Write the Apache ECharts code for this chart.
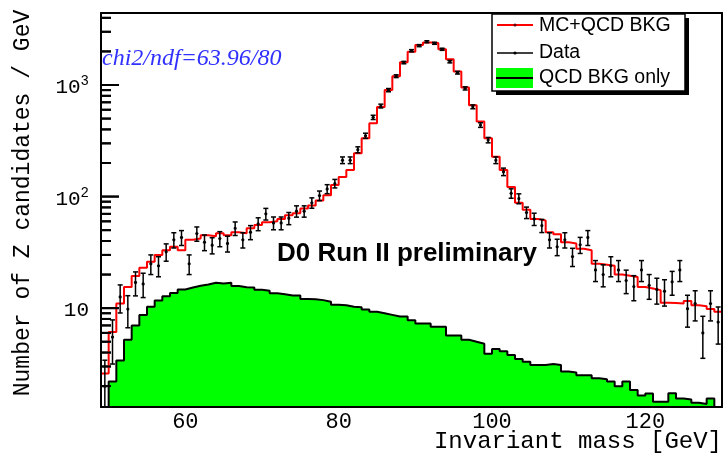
<!DOCTYPE html>
<html>
<head>
<meta charset="utf-8">
<script src="https://cdn.jsdelivr.net/npm/echarts@6/dist/echarts.min.js"></script>
<style>
  html, body { margin: 0; padding: 0; background: #fff; }
  #chart { width: 725px; height: 459px; }
</style>
</head>
<body>
<div id="chart"></div>
<script>
// Dielectron invariant mass, 1 GeV bins from 49 to 130 GeV (81 bins)
const binLow = 49;
const binHigh = 130;

// MC signal + QCD background expectation (events / GeV)
const mcPlusQcd = [
  2.6, 6.1, 11, 15.5, 19.4, 23, 26, 30, 33, 35.5,
  33, 41, 42, 45, 44, 47, 45, 48, 47, 52,
  55.5, 59, 60, 63, 68, 71, 78, 83, 92, 103,
  127, 150, 173, 244, 333, 455, 635, 900, 1200, 1600,
  1990, 2285, 2400, 2380, 2090, 1700, 1320, 950, 660, 470,
  333, 228, 173, 122, 88, 76, 63, 61, 48, 46,
  39, 38, 34, 33, 25, 24.5, 24, 20, 19.5, 19,
  15.5, 15, 14.5, 11.2, 11.1, 11, 11.6, 10.6, 10.4, 9.8,
  9.3
];

// Observed candidates (events / GeV)
const dataCounts = [
  2, 5.5, 12.6, 9.8, 17, 16.5, 25, 24, 32, 41,
  43, 25, 46.6, 39, 36.7, 42, 38, 52, 41, 48,
  57, 70, 58, 58, 64, 74, 74, 88, 102, 117,
  131, 212, 212, 263, 351, 513, 648, 900, 1200, 1590,
  2030, 2255, 2445, 2365, 2090, 1620, 1290, 933, 638, 438,
  321, 212, 167, 107, 96, 72, 63, 55, 41, 35.5,
  41, 29, 37, 43, 22, 20, 24, 22, 17.7, 15.6,
  22, 16, 14.7, 14.2, 17.2, 22, 9.9, 11, 6, 11,
  7.5
];

// QCD background alone (events / GeV)
const qcdOnly = [
  1.0, 2.2, 3.4, 5.2, 7.0, 8.7, 10.3, 11.7, 12.8, 13.7,
  14.7, 15.3, 15.9, 16.3, 16.9, 16.6, 16.9, 15.8, 15.4, 15.3,
  14.6, 14.3, 13.6, 13.3, 13.0, 13.0, 12.1, 12.0, 11.8, 11.4,
  10.7, 10.6, 10.3, 10.2, 9.7, 9.3, 9.0, 8.7, 8.4, 8.4,
  7.8, 7.3, 7.3, 6.8, 6.8, 5.7, 5.7, 5.2, 5.0, 4.8,
  3.9, 4.3, 4.1, 3.8, 3.5, 3.3, 3.1, 3.1, 3.15, 3.1,
  2.7, 2.65, 2.5, 2.5, 2.35, 2.3, 2.2, 2.0, 2.2, 1.85,
  1.65, 1.72, 1.45, 1.45, 1.73, 1.55, 1.52, 1.42, 1.38, 1.55,
  1.2
];

// Axis ticks and labels
const xTickValues = [60, 80, 100, 120];
const yMin = 1.3;
const yMax = 4420;
const yMajorTicks = [10, 100, 1000];
const yMajorLabels = ['10', '10{sup|2}', '10{sup|3}'];
const yMinorTicks = [];
for (let decade = 1; decade <= 1000; decade *= 10) {
  for (let m = 2; m <= 9; m++) {
    const v = m * decade;
    if (v > yMin && v < yMax) yMinorTicks.push(v);
  }
}

// Histogram outline: one point per lower bin edge plus the closing upper edge
function stepPoints(values) {
  const pts = values.map((v, i) => [binLow + i, v]);
  pts.push([binHigh, values[values.length - 1]]);
  return pts;
}
const dataPoints = dataCounts.map((v, i) => [binLow + i + 0.5, v]);

const monoFont = '"Liberation Mono", "DejaVu Sans Mono", monospace';
const sansFont = '"Liberation Sans", Arial, sans-serif';
const frameLine = { show: true, onZero: false, lineStyle: { color: '#000', width: 2 } };

// Data points with Poisson (sqrt N) uncertainties
function renderDataPoint(params, api) {
  const x = api.value(0);
  const n = api.value(1);
  const err = Math.sqrt(n);
  const cs = params.coordSys;
  const c = api.coord([x, n]);
  const hiPx = Math.max(api.coord([x, n + err])[1], cs.y);
  const lo = n - err;
  const loPx = lo > yMin ? api.coord([x, lo])[1] : cs.y + cs.height;
  const cap = 2.5;
  const stroke = { stroke: '#000', lineWidth: 1.5 };
  const children = [
    { type: 'line', shape: { x1: c[0], y1: hiPx, x2: c[0], y2: loPx }, style: stroke },
    { type: 'line', shape: { x1: c[0] - cap, y1: hiPx, x2: c[0] + cap, y2: hiPx }, style: stroke }
  ];
  if (lo > yMin) {
    children.push({ type: 'line', shape: { x1: c[0] - cap, y1: loPx, x2: c[0] + cap, y2: loPx }, style: stroke });
  }
  children.push({ type: 'circle', shape: { cx: c[0], cy: c[1], r: 1.6 }, style: { fill: '#000' } });
  return { type: 'group', children };
}

// Inward tick mark on the left frame at a y-axis value
function tickRenderer(length) {
  return function (params, api) {
    const y = api.coord([binLow, api.value(1)])[1];
    const x0 = params.coordSys.x;
    return {
      type: 'line',
      shape: { x1: x0, y1: y, x2: x0 + length, y2: y },
      style: { stroke: '#000', lineWidth: 2 }
    };
  };
}

const chart = echarts.init(document.getElementById('chart'), null, { renderer: 'canvas' });

chart.setOption({
  animation: false,
  grid: { left: 101, right: 3, top: 13, bottom: 52 },
  xAxis: [
    {
      type: 'value', min: binLow, max: binHigh, position: 'bottom', z: 10,
      axisLine: frameLine, axisTick: { show: false }, splitLine: { show: false },
      axisLabel: {
        customValues: xTickValues, margin: 4, color: '#000',
        fontFamily: monoFont, fontSize: 22
      }
    },
    {
      type: 'value', min: binLow, max: binHigh, position: 'top', z: 10,
      axisLine: frameLine, axisTick: { show: false }, splitLine: { show: false },
      axisLabel: { show: false }
    }
  ],
  yAxis: [
    {
      type: 'log', logBase: 10, min: yMin, max: yMax, position: 'left', z: 10,
      axisLine: frameLine, splitLine: { show: false }, axisTick: { show: false },
      axisLabel: {
        customValues: yMajorTicks, margin: 12, color: '#000',
        fontFamily: monoFont, fontSize: 21, padding: [5, 0, 0, 0],
        formatter: (v) => {
          const i = yMajorTicks.findIndex(t => Math.abs(v / t - 1) < 1e-6);
          return i < 0 ? '' : yMajorLabels[i];
        },
        rich: {
          sup: { fontFamily: monoFont, fontSize: 14, color: '#000', padding: [0, 0, 12, 0] }
        }
      }
    },
    {
      type: 'log', logBase: 10, min: yMin, max: yMax, position: 'right', z: 10,
      axisLine: frameLine, splitLine: { show: false }, axisLabel: { show: false },
      axisTick: { show: false }
    }
  ],
  series: [
    {
      name: 'QCD BKG only', type: 'line', step: 'end', symbol: 'none', clip: true, z: 2,
      xAxisIndex: 0, yAxisIndex: 0,
      data: stepPoints(qcdOnly),
      lineStyle: { color: '#000', width: 2 },
      areaStyle: { color: '#00ff00', opacity: 1, origin: 'start' }
    },
    {
      name: 'MC+QCD BKG', type: 'line', step: 'end', symbol: 'none', clip: true, z: 3,
      xAxisIndex: 0, yAxisIndex: 0,
      data: stepPoints(mcPlusQcd),
      lineStyle: { color: '#ff0000', width: 2 }
    },
    {
      name: 'Data', type: 'custom', z: 4,
      xAxisIndex: 0, yAxisIndex: 0,
      data: dataPoints,
      renderItem: renderDataPoint
    },
    {
      name: 'major ticks', type: 'custom', z: 20,
      xAxisIndex: 0, yAxisIndex: 0,
      data: yMajorTicks.map(v => [binLow + 1, v]),
      renderItem: tickRenderer(18)
    },
    {
      name: 'minor ticks', type: 'custom', z: 20,
      xAxisIndex: 0, yAxisIndex: 0,
      data: yMinorTicks.map(v => [binLow + 1, v]),
      renderItem: tickRenderer(10)
    }
  ]
});

const graphicItems = [
  // axis titles
  {
    type: 'text', x: 23, y: 203, rotation: Math.PI / 2,
    style: { text: 'Number of Z candidates / GeV', font: '23px ' + monoFont, fill: '#000', align: 'center', verticalAlign: 'middle' }
  },
  {
    type: 'text', x: 722, y: 442,
    style: { text: 'Invariant mass [GeV]', font: '24px ' + monoFont, fill: '#000', align: 'right', verticalAlign: 'middle' }
  },
  // fit quality and experiment label
  {
    type: 'text', x: 102, y: 59,
    style: { text: 'chi2/ndf=63.96/80', font: 'italic 24px "Liberation Serif", serif', fill: '#3030ff', align: 'left', verticalAlign: 'middle' }
  },
  {
    type: 'text', x: 277, y: 254,
    style: { text: 'D0 Run II preliminary', font: 'bold 26px ' + sansFont, fill: '#000', align: 'left', verticalAlign: 'middle' }
  },
  // legend box with drop shadow
  { type: 'rect', shape: { x: 496, y: 18, width: 193, height: 77 }, style: { fill: '#000' } },
  { type: 'rect', shape: { x: 492, y: 14, width: 193, height: 77 }, style: { fill: '#fff', stroke: '#000', lineWidth: 1.5 } },
  { type: 'line', shape: { x1: 497, y1: 25, x2: 533, y2: 25 }, style: { stroke: '#ff0000', lineWidth: 2 } },
  { type: 'circle', shape: { cx: 515, cy: 25, r: 1.5 }, style: { fill: '#600' } },
  { type: 'text', x: 539, y: 26, style: { text: 'MC+QCD BKG', font: '19.5px ' + sansFont, fill: '#000', verticalAlign: 'middle' } },
  { type: 'line', shape: { x1: 497, y1: 53, x2: 533, y2: 53 }, style: { stroke: '#000', lineWidth: 1.5 } },
  { type: 'circle', shape: { cx: 515, cy: 53, r: 1.6 }, style: { fill: '#000' } },
  { type: 'text', x: 539, y: 53, style: { text: 'Data', font: '19.5px ' + sansFont, fill: '#000', verticalAlign: 'middle' } },
  { type: 'rect', shape: { x: 496, y: 68, width: 37, height: 20 }, style: { fill: '#00ff00' } },
  { type: 'line', shape: { x1: 496, y1: 78, x2: 533, y2: 78 }, style: { stroke: '#000', lineWidth: 2 } },
  { type: 'text', x: 539, y: 78, style: { text: 'QCD BKG only', font: '19.5px ' + sansFont, fill: '#000', verticalAlign: 'middle' } }
];

// Same tick marks again as overlay lines, positioned through the y axis' log scale
const frameLeft = chart.convertToPixel({ xAxisIndex: 0 }, binLow);
[[yMajorTicks, 18], [yMinorTicks, 10]].forEach(([values, len]) => {
  values.forEach(v => {
    const y = chart.convertToPixel({ yAxisIndex: 0 }, v);
    graphicItems.push({
      type: 'line',
      shape: { x1: frameLeft, y1: y, x2: frameLeft + len, y2: y },
      style: { stroke: '#000', lineWidth: 2 }
    });
  });
});

chart.setOption({ graphic: graphicItems });
</script>
</body>
</html>
